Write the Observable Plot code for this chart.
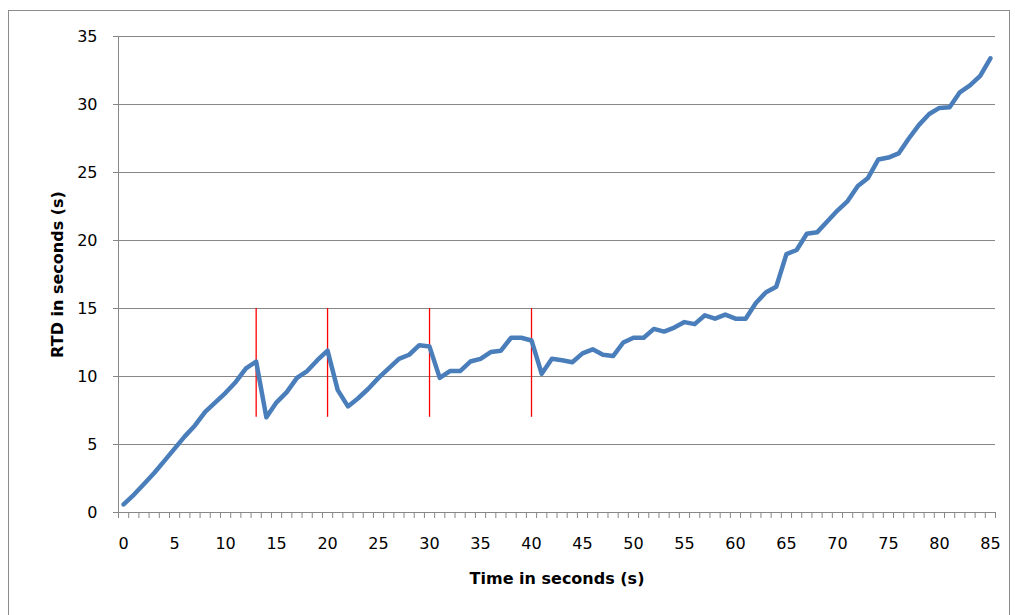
<!DOCTYPE html>
<html>
<head>
<meta charset="utf-8">
<script src="https://cdn.jsdelivr.net/npm/d3@7"></script>
<script src="https://cdn.jsdelivr.net/npm/@observablehq/plot@0.6"></script>
<style>
  html, body { margin: 0; padding: 0; background: #fff; }
  #wrap { position: relative; width: 1015px; height: 615px; overflow: hidden; }
  #border { position: absolute; left: 8px; top: 10px; width: 1002px; height: 620px; border: 1px solid #8c8c8c; box-sizing: border-box; pointer-events: none; }
  #chart { position: absolute; left: 0; top: 0; }
</style>
</head>
<body>
<div id="wrap"><div id="chart"></div><div id="border"></div></div>
<script>
// Categories (time in seconds)
const time = d3.range(0, 86);
// RTD in seconds
const rtd = [
  0.6, 1.3, 2.1, 2.9, 3.8, 4.7, 5.6, 6.4, 7.4, 8.1,
  8.8, 9.6, 10.6, 11.1, 7.0, 8.1, 8.85, 9.9, 10.4, 11.2,
  11.9, 9.0, 7.8, 8.4, 9.1, 9.9, 10.6, 11.3, 11.6, 12.3,
  12.2, 9.9, 10.4, 10.4, 11.1, 11.3, 11.8, 11.9, 12.85, 12.85,
  12.65, 10.2, 11.3, 11.2, 11.05, 11.7, 12.0, 11.6, 11.5, 12.5,
  12.85, 12.85, 13.5, 13.3, 13.6, 14.0, 13.85, 14.5, 14.25, 14.55,
  14.25, 14.25, 15.4, 16.2, 16.6, 19.0, 19.3, 20.5, 20.6, 21.4,
  22.2, 22.9, 24.0, 24.6, 25.95, 26.1, 26.4, 27.5, 28.5, 29.3,
  29.75, 29.8, 30.9, 31.4, 32.1, 33.4
];
// Red marker lines (time) and their vertical span
const markerTimes = [13, 20, 30, 40];
const markerLow = 7;
const markerHigh = 15;
// Tick labels
const yTicks = [0, 5, 10, 15, 20, 25, 30, 35];
const xLabelTicks = [0, 5, 10, 15, 20, 25, 30, 35, 40, 45, 50, 55, 60, 65, 70, 75, 80, 85];
const xTitle = "Time in seconds (s)";
const yTitle = "RTD in seconds (s)";

const data = time.map((t, i) => ({t, v: rtd[i]}));
const boundaries = time.concat([time.length]).map(t => t - 0.5);
const markers = markerTimes.map(t => ({t, y1: markerLow, y2: markerHigh}));

const gray = "#878787";

const chart = Plot.plot({
  width: 1015,
  height: 615,
  marginLeft: 118,
  marginRight: 20,
  marginTop: 36,
  marginBottom: 103,
  style: { fontFamily: "DejaVu Sans, sans-serif", fontSize: "16px", color: "#000", background: "transparent" },
  x: { type: "linear", domain: [-0.5, 85.5] },
  y: { domain: [0, 35] },
  marks: [
    Plot.ruleY(yTicks.filter(d => d > 0), { stroke: gray, strokeWidth: 1 }),
    Plot.axisY({ ticks: yTicks, tickSize: 5, tickPadding: 16, stroke: gray, label: null, fill: "#000" }),
    Plot.axisX({ ticks: boundaries, tickSize: 6, tickFormat: () => "", stroke: gray, label: null }),
    Plot.axisX({ ticks: xLabelTicks, tickSize: 0, tickPadding: 25, label: null, fill: "#000" }),
    Plot.ruleY([0], { stroke: gray, strokeWidth: 1 }),
    Plot.ruleX([-0.5], { stroke: gray, strokeWidth: 1 }),
    Plot.ruleX(markers, { x: "t", y1: "y1", y2: "y2", stroke: "#ff0000", strokeWidth: 1.3 }),
    Plot.line(data, { x: "t", y: "v", stroke: "#4a7ebb", strokeWidth: 4.5, strokeLinejoin: "round", strokeLinecap: "round" }),
    Plot.text([xTitle], { frameAnchor: "bottom", dy: 66, lineAnchor: "middle", fontWeight: "bold", fontSize: 16, fill: "#000" }),
    Plot.text([yTitle], { frameAnchor: "left", dx: -61, rotate: -90, lineAnchor: "middle", textAnchor: "middle", fontWeight: "bold", fontSize: 16, fill: "#000" })
  ]
});
document.getElementById("chart").appendChild(chart);
</script>
</body>
</html>
